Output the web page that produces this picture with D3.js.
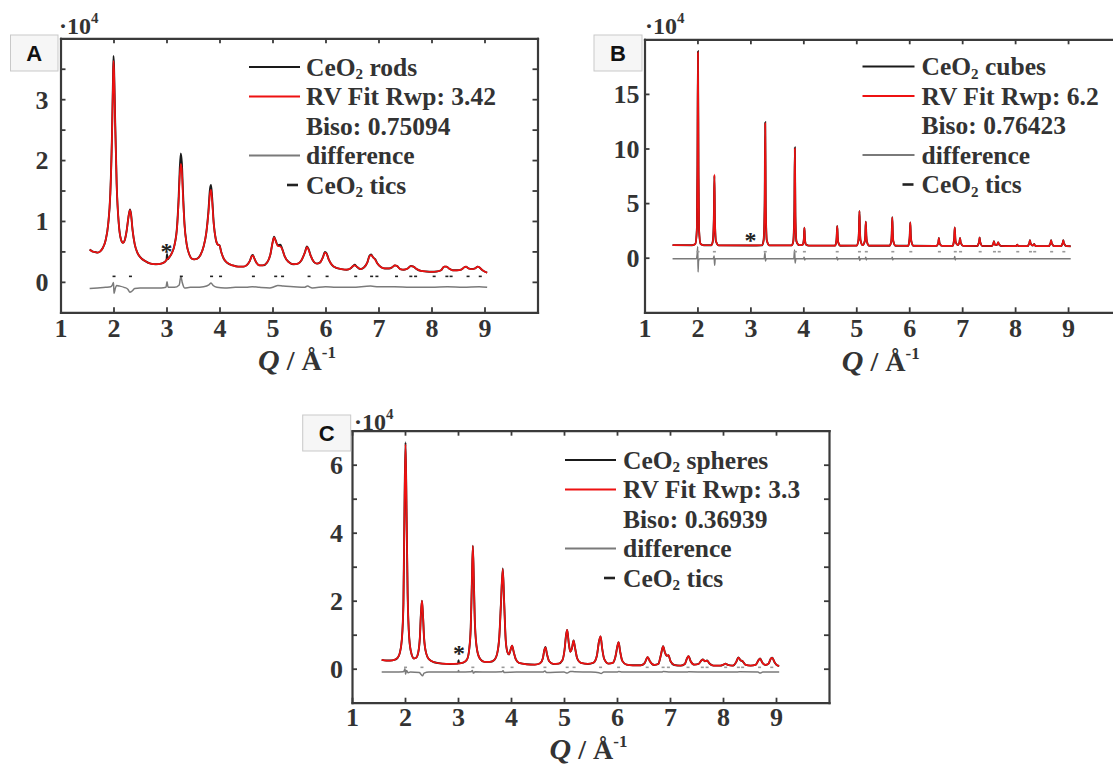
<!DOCTYPE html>
<html>
<head>
<meta charset="utf-8">
<script src="https://cdn.jsdelivr.net/npm/d3@7"></script>
<style>
  html, body { margin: 0; padding: 0; background: #ffffff; }
  svg { display: block; }
</style>
</head>
<body>
<script>
// ---------------- DATA ----------------
// Q in 1/Å, intensity in units of 10^4
const xTickValues = [1, 2, 3, 4, 5, 6, 7, 8, 9];
const yLabelsA = [0, 1, 2, 3];
const yTicksA = [0, 0.5, 1, 1.5, 2, 2.5, 3, 3.5];
const yLabelsB = [0, 5, 10, 15];
const yTicksB = [0, 5, 10, 15];
const yLabelsC = [0, 2, 4, 6];
const yTicksC = [0, 1, 2, 3, 4, 5, 6];

const panelLetters = ["A", "B", "C"];
const sampleNames = ["rods", "cubes", "spheres"];
const rwpValues = ["3.42", "6.2", "3.3"];
const bisoValues = ["0.75094", "0.76423", "0.36939"];

// CeO2 reflection tic positions
const ceo2Tics = [2.01, 2.32, 3.28, 3.85, 4.02, 4.64, 5.06, 5.19, 5.69, 6.03, 6.57, 6.87, 6.97, 7.34, 7.61, 7.70, 8.05, 8.29, 8.37, 8.69, 8.92];

// Panel A: CeO2 rods
const obsA = [[1.55,0.53],[1.60,0.50],[1.65,0.49],[1.70,0.48],[1.75,0.50],[1.80,0.56],[1.85,0.68],[1.90,0.95],[1.94,1.45],[1.97,2.35],[1.99,3.30],[2.00,3.71],[2.01,3.55],[2.03,2.70],[2.06,1.60],[2.10,0.95],[2.14,0.70],[2.18,0.64],[2.21,0.68],[2.25,0.85],[2.28,1.05],[2.31,1.19],[2.33,1.12],[2.36,0.85],[2.40,0.62],[2.45,0.48],[2.50,0.41],[2.60,0.34],[2.70,0.30],[2.80,0.29],[2.90,0.30],[2.97,0.33],[3.00,0.36],[3.01,0.46],[3.02,0.37],[3.05,0.40],[3.10,0.47],[3.15,0.60],[3.20,0.92],[3.23,1.40],[3.25,1.85],[3.27,2.11],[3.29,1.95],[3.31,1.50],[3.34,0.95],[3.38,0.62],[3.43,0.45],[3.48,0.38],[3.52,0.37],[3.58,0.38],[3.64,0.44],[3.70,0.58],[3.75,0.80],[3.79,1.15],[3.82,1.52],[3.84,1.59],[3.86,1.40],[3.89,0.98],[3.93,0.70],[3.97,0.61],[4.00,0.60],[4.03,0.50],[4.08,0.38],[4.15,0.31],[4.25,0.27],[4.35,0.25],[4.45,0.25],[4.52,0.28],[4.57,0.34],[4.61,0.43],[4.63,0.44],[4.66,0.38],[4.70,0.31],[4.76,0.27],[4.82,0.27],[4.90,0.32],[4.96,0.45],[5.00,0.64],[5.03,0.74],[5.06,0.68],[5.10,0.60],[5.15,0.61],[5.18,0.55],[5.23,0.42],[5.30,0.33],[5.40,0.29],[5.48,0.30],[5.55,0.36],[5.61,0.48],[5.65,0.58],[5.68,0.54],[5.72,0.43],[5.78,0.33],[5.84,0.30],[5.90,0.32],[5.95,0.40],[5.99,0.49],[6.02,0.47],[6.06,0.37],[6.12,0.28],[6.20,0.23],[6.30,0.21],[6.40,0.20],[6.47,0.22],[6.52,0.26],[6.55,0.28],[6.59,0.25],[6.66,0.21],[6.73,0.24],[6.79,0.32],[6.83,0.43],[6.86,0.45],[6.90,0.40],[6.94,0.37],[6.98,0.30],[7.05,0.24],[7.12,0.22],[7.20,0.22],[7.26,0.24],[7.31,0.27],[7.35,0.26],[7.41,0.21],[7.48,0.20],[7.55,0.22],[7.61,0.26],[7.66,0.25],[7.72,0.21],[7.80,0.18],[7.90,0.17],[8.00,0.165],[8.10,0.17],[8.18,0.19],[8.24,0.25],[8.28,0.25],[8.33,0.22],[8.40,0.19],[8.48,0.19],[8.56,0.20],[8.62,0.24],[8.65,0.25],[8.70,0.22],[8.76,0.21],[8.82,0.22],[8.87,0.25],[8.90,0.24],[8.95,0.20],[9.00,0.17],[9.05,0.15]];
const fitA = [[1.55,0.53],[1.60,0.50],[1.65,0.49],[1.70,0.48],[1.75,0.50],[1.80,0.56],[1.85,0.68],[1.90,0.95],[1.94,1.45],[1.97,2.33],[1.99,3.24],[2.00,3.63],[2.01,3.47],[2.03,2.66],[2.06,1.60],[2.10,0.95],[2.14,0.70],[2.18,0.64],[2.21,0.68],[2.25,0.85],[2.28,1.05],[2.31,1.18],[2.33,1.11],[2.36,0.85],[2.40,0.62],[2.45,0.48],[2.50,0.41],[2.60,0.34],[2.70,0.30],[2.80,0.29],[2.90,0.30],[2.97,0.33],[3.00,0.36],[3.05,0.40],[3.10,0.47],[3.15,0.60],[3.20,0.90],[3.23,1.35],[3.25,1.74],[3.27,1.94],[3.29,1.82],[3.31,1.42],[3.34,0.93],[3.38,0.62],[3.43,0.45],[3.48,0.38],[3.52,0.37],[3.58,0.38],[3.64,0.44],[3.70,0.58],[3.75,0.80],[3.79,1.12],[3.82,1.45],[3.84,1.51],[3.86,1.34],[3.89,0.96],[3.93,0.70],[3.97,0.61],[4.00,0.60],[4.03,0.50],[4.08,0.38],[4.15,0.31],[4.25,0.27],[4.35,0.25],[4.45,0.25],[4.52,0.28],[4.57,0.34],[4.61,0.42],[4.63,0.43],[4.66,0.38],[4.70,0.31],[4.76,0.27],[4.82,0.27],[4.90,0.32],[4.96,0.45],[5.00,0.64],[5.03,0.73],[5.06,0.67],[5.10,0.59],[5.15,0.58],[5.18,0.54],[5.23,0.42],[5.30,0.33],[5.40,0.29],[5.48,0.30],[5.55,0.36],[5.61,0.48],[5.65,0.57],[5.68,0.53],[5.72,0.43],[5.78,0.33],[5.84,0.30],[5.90,0.32],[5.95,0.40],[5.99,0.48],[6.02,0.46],[6.06,0.37],[6.12,0.28],[6.20,0.23],[6.30,0.21],[6.40,0.20],[6.47,0.22],[6.52,0.26],[6.55,0.27],[6.59,0.25],[6.66,0.21],[6.73,0.24],[6.79,0.32],[6.83,0.42],[6.86,0.44],[6.90,0.40],[6.94,0.36],[6.98,0.30],[7.05,0.24],[7.12,0.22],[7.20,0.22],[7.26,0.24],[7.31,0.27],[7.35,0.26],[7.41,0.21],[7.48,0.20],[7.55,0.22],[7.61,0.26],[7.66,0.25],[7.72,0.21],[7.80,0.18],[7.90,0.17],[8.00,0.165],[8.10,0.17],[8.18,0.19],[8.24,0.25],[8.28,0.25],[8.33,0.22],[8.40,0.19],[8.48,0.19],[8.56,0.20],[8.62,0.24],[8.65,0.25],[8.70,0.22],[8.76,0.21],[8.82,0.22],[8.87,0.25],[8.90,0.24],[8.95,0.20],[9.00,0.17],[9.05,0.15]];
const diffA = [[1.55,-0.11],[1.70,-0.10],[1.85,-0.09],[1.95,-0.08],[1.98,-0.05],[2.00,-0.01],[2.01,-0.19],[2.03,-0.12],[2.06,-0.06],[2.12,-0.07],[2.20,-0.09],[2.27,-0.12],[2.31,-0.17],[2.35,-0.15],[2.40,-0.11],[2.50,-0.10],[2.70,-0.10],[2.90,-0.10],[2.99,-0.09],[3.01,0.00],[3.03,-0.09],[3.15,-0.09],[3.24,-0.05],[3.27,0.09],[3.30,-0.02],[3.34,-0.10],[3.45,-0.09],[3.55,-0.09],[3.70,-0.08],[3.80,-0.05],[3.84,-0.02],[3.88,-0.06],[3.95,-0.09],[4.10,-0.10],[4.30,-0.09],[4.50,-0.09],[4.62,-0.08],[4.75,-0.09],[4.95,-0.10],[5.03,-0.08],[5.10,-0.06],[5.20,-0.07],[5.40,-0.08],[5.60,-0.09],[5.66,-0.07],[5.75,-0.10],[6.00,-0.08],[6.20,-0.09],[6.50,-0.09],[6.85,-0.07],[7.00,-0.08],[7.30,-0.08],[7.60,-0.09],[8.00,-0.09],[8.30,-0.08],[8.60,-0.09],[8.90,-0.08],[9.05,-0.09]];

// Panel B: CeO2 cubes
const fitB = [[1.53,1.15],[1.90,1.14],[1.96,1.25],[1.99,2.6],[2.00,8.0],[2.01,18.8],[2.02,8.0],[2.03,2.6],[2.06,1.25],[2.12,1.14],[2.26,1.14],[2.29,1.5],[2.31,3.5],[2.32,7.6],[2.33,3.5],[2.35,1.5],[2.40,1.13],[3.00,1.12],[3.22,1.14],[3.25,1.6],[3.27,4.8],[3.28,12.3],[3.29,4.8],[3.31,1.6],[3.36,1.13],[3.78,1.13],[3.81,1.5],[3.83,4.0],[3.84,10.0],[3.85,4.0],[3.87,1.5],[3.92,1.15],[3.99,1.2],[4.01,1.7],[4.02,2.75],[4.03,1.7],[4.05,1.2],[4.10,1.11],[4.60,1.11],[4.62,1.4],[4.63,1.9],[4.64,2.9],[4.65,1.9],[4.66,1.4],[4.70,1.10],[5.01,1.11],[5.04,1.6],[5.05,2.4],[5.06,4.27],[5.07,2.4],[5.08,1.6],[5.12,1.15],[5.16,1.5],[5.17,2.0],[5.18,3.3],[5.19,2.0],[5.20,1.5],[5.24,1.10],[5.63,1.10],[5.66,1.5],[5.67,2.2],[5.68,3.7],[5.69,2.2],[5.70,1.5],[5.74,1.10],[5.98,1.09],[6.00,1.5],[6.01,2.0],[6.02,3.23],[6.03,2.0],[6.04,1.5],[6.08,1.09],[6.52,1.08],[6.54,1.25],[6.55,1.4],[6.56,1.8],[6.57,1.4],[6.58,1.25],[6.62,1.08],[6.82,1.08],[6.84,1.4],[6.85,1.8],[6.86,2.77],[6.87,1.8],[6.88,1.4],[6.92,1.15],[6.94,1.3],[6.95,1.45],[6.96,1.8],[6.97,1.45],[6.98,1.3],[7.02,1.08],[7.29,1.07],[7.31,1.3],[7.32,1.45],[7.33,1.85],[7.34,1.45],[7.35,1.3],[7.38,1.07],[7.56,1.07],[7.58,1.2],[7.59,1.3],[7.60,1.5],[7.61,1.3],[7.63,1.15],[7.66,1.2],[7.67,1.28],[7.68,1.4],[7.69,1.28],[7.70,1.2],[7.74,1.07],[8.00,1.06],[8.03,1.12],[8.04,1.2],[8.05,1.12],[8.08,1.06],[8.24,1.06],[8.26,1.25],[8.27,1.35],[8.28,1.6],[8.29,1.35],[8.30,1.25],[8.33,1.12],[8.35,1.15],[8.36,1.25],[8.37,1.15],[8.40,1.06],[8.64,1.06],[8.66,1.25],[8.67,1.35],[8.68,1.6],[8.69,1.35],[8.70,1.25],[8.74,1.06],[8.87,1.06],[8.89,1.25],[8.90,1.35],[8.91,1.6],[8.92,1.35],[8.93,1.25],[8.97,1.06],[9.05,1.05]];
const obsB = [[1.53,1.15],[1.90,1.14],[1.96,1.25],[1.99,2.7],[2.00,8.5],[2.01,18.9],[2.02,7.6],[2.03,2.5],[2.06,1.25],[2.12,1.14],[2.26,1.14],[2.29,1.5],[2.31,3.6],[2.32,7.5],[2.33,3.3],[2.35,1.5],[2.40,1.13],[3.00,1.12],[3.22,1.14],[3.25,1.6],[3.27,5.0],[3.28,12.4],[3.29,4.6],[3.31,1.6],[3.36,1.13],[3.78,1.13],[3.81,1.5],[3.83,4.3],[3.84,10.1],[3.85,3.8],[3.87,1.5],[3.92,1.15],[3.99,1.2],[4.01,1.7],[4.02,2.75],[4.03,1.7],[4.05,1.2],[4.10,1.11],[4.60,1.11],[4.62,1.4],[4.63,1.9],[4.64,2.9],[4.65,1.9],[4.66,1.4],[4.70,1.10],[5.01,1.11],[5.04,1.6],[5.05,2.4],[5.06,4.27],[5.07,2.4],[5.08,1.6],[5.12,1.15],[5.16,1.5],[5.17,2.0],[5.18,3.3],[5.19,2.0],[5.20,1.5],[5.24,1.10],[5.63,1.10],[5.66,1.5],[5.67,2.2],[5.68,3.7],[5.69,2.2],[5.70,1.5],[5.74,1.10],[5.98,1.09],[6.00,1.5],[6.01,2.0],[6.02,3.23],[6.03,2.0],[6.04,1.5],[6.08,1.09],[6.52,1.08],[6.54,1.25],[6.55,1.4],[6.56,1.8],[6.57,1.4],[6.58,1.25],[6.62,1.08],[6.82,1.08],[6.84,1.4],[6.85,1.8],[6.86,2.77],[6.87,1.8],[6.88,1.4],[6.92,1.15],[6.94,1.3],[6.95,1.45],[6.96,1.8],[6.97,1.45],[6.98,1.3],[7.02,1.08],[7.29,1.07],[7.31,1.3],[7.32,1.45],[7.33,1.85],[7.34,1.45],[7.35,1.3],[7.38,1.07],[7.56,1.07],[7.58,1.2],[7.59,1.3],[7.60,1.5],[7.61,1.3],[7.63,1.15],[7.66,1.2],[7.67,1.28],[7.68,1.4],[7.69,1.28],[7.70,1.2],[7.74,1.07],[8.00,1.06],[8.03,1.12],[8.04,1.2],[8.05,1.12],[8.08,1.06],[8.24,1.06],[8.26,1.25],[8.27,1.35],[8.28,1.6],[8.29,1.35],[8.30,1.25],[8.33,1.12],[8.35,1.15],[8.36,1.25],[8.37,1.15],[8.40,1.06],[8.64,1.06],[8.66,1.25],[8.67,1.35],[8.68,1.6],[8.69,1.35],[8.70,1.25],[8.74,1.06],[8.87,1.06],[8.89,1.25],[8.90,1.35],[8.91,1.6],[8.92,1.35],[8.93,1.25],[8.97,1.06],[9.05,1.05]];
const diffB = [[1.53,-0.1],[1.98,-0.1],[1.995,0.3],[2.005,1.0],[2.012,-1.3],[2.02,-0.3],[2.04,-0.1],[2.30,-0.1],[2.315,0.15],[2.325,-0.7],[2.335,-0.1],[3.26,-0.1],[3.275,0.45],[3.285,-0.3],[3.30,-0.1],[3.82,-0.1],[3.835,0.7],[3.845,-0.5],[3.86,-0.1],[4.005,-0.1],[4.015,0.05],[4.025,-0.2],[4.04,-0.1],[4.625,-0.1],[4.635,0.05],[4.645,-0.2],[4.66,-0.1],[5.045,-0.1],[5.055,0.1],[5.065,-0.25],[5.08,-0.1],[5.17,-0.1],[5.18,0.05],[5.19,-0.2],[5.20,-0.1],[5.67,-0.1],[5.68,0.05],[5.69,-0.2],[5.70,-0.1],[6.85,-0.1],[6.86,0.1],[6.87,-0.2],[6.88,-0.1],[9.05,-0.1]];

// Panel C: CeO2 spheres
const fitC = [[1.56,0.26],[1.65,0.24],[1.72,0.24],[1.80,0.26],[1.86,0.32],[1.90,0.45],[1.94,0.85],[1.97,1.9],[1.99,4.6],[2.01,6.60],[2.03,4.6],[2.05,2.2],[2.08,0.9],[2.12,0.45],[2.17,0.30],[2.21,0.32],[2.25,0.48],[2.28,0.9],[2.30,1.6],[2.32,2.0],[2.34,1.55],[2.36,0.9],[2.40,0.45],[2.45,0.28],[2.55,0.19],[2.70,0.15],[2.85,0.14],[3.00,0.15],[3.10,0.18],[3.17,0.27],[3.21,0.55],[3.24,1.2],[3.26,2.4],[3.28,3.61],[3.30,2.5],[3.32,1.3],[3.36,0.55],[3.42,0.28],[3.50,0.20],[3.60,0.20],[3.68,0.25],[3.74,0.45],[3.78,0.95],[3.81,1.9],[3.845,2.93],[3.87,2.0],[3.90,0.85],[3.93,0.50],[3.96,0.42],[4.00,0.60],[4.02,0.68],[4.05,0.50],[4.09,0.28],[4.15,0.17],[4.30,0.13],[4.45,0.12],[4.55,0.16],[4.60,0.30],[4.63,0.55],[4.65,0.63],[4.68,0.42],[4.72,0.22],[4.80,0.14],[4.90,0.15],[4.97,0.25],[5.01,0.55],[5.04,1.0],[5.06,1.14],[5.09,0.75],[5.12,0.50],[5.15,0.60],[5.18,0.83],[5.21,0.60],[5.25,0.30],[5.32,0.17],[5.45,0.14],[5.56,0.18],[5.62,0.38],[5.66,0.80],[5.69,0.95],[5.72,0.60],[5.76,0.28],[5.84,0.15],[5.92,0.17],[5.97,0.35],[6.01,0.68],[6.03,0.78],[6.06,0.50],[6.10,0.23],[6.18,0.12],[6.30,0.10],[6.45,0.10],[6.52,0.16],[6.56,0.30],[6.58,0.34],[6.62,0.22],[6.70,0.11],[6.78,0.14],[6.83,0.42],[6.87,0.66],[6.90,0.50],[6.94,0.38],[6.97,0.40],[7.01,0.22],[7.08,0.11],[7.20,0.09],[7.28,0.14],[7.32,0.30],[7.35,0.37],[7.39,0.22],[7.46,0.12],[7.54,0.14],[7.59,0.24],[7.62,0.27],[7.66,0.22],[7.70,0.24],[7.74,0.16],[7.82,0.09],[7.95,0.09],[8.02,0.13],[8.05,0.15],[8.09,0.11],[8.18,0.09],[8.25,0.20],[8.29,0.33],[8.33,0.25],[8.37,0.22],[8.42,0.12],[8.52,0.09],[8.62,0.12],[8.67,0.25],[8.70,0.30],[8.74,0.18],[8.80,0.11],[8.86,0.15],[8.90,0.29],[8.93,0.32],[8.97,0.20],[9.02,0.10],[9.06,0.08]];
const obsC = [[1.56,0.26],[1.65,0.24],[1.72,0.24],[1.80,0.26],[1.86,0.32],[1.90,0.45],[1.94,0.85],[1.97,1.9],[1.99,4.7],[2.01,6.66],[2.03,4.5],[2.05,2.2],[2.08,0.9],[2.12,0.45],[2.17,0.30],[2.21,0.32],[2.25,0.48],[2.28,0.9],[2.30,1.6],[2.32,2.0],[2.34,1.55],[2.36,0.9],[2.40,0.45],[2.45,0.28],[2.55,0.19],[2.70,0.15],[2.85,0.14],[3.00,0.15],[3.01,0.25],[3.02,0.16],[3.10,0.18],[3.17,0.27],[3.21,0.55],[3.24,1.2],[3.26,2.4],[3.28,3.62],[3.30,2.5],[3.32,1.3],[3.36,0.55],[3.42,0.28],[3.50,0.20],[3.60,0.20],[3.68,0.25],[3.74,0.45],[3.78,0.95],[3.81,1.9],[3.845,2.95],[3.87,2.0],[3.90,0.85],[3.93,0.50],[3.96,0.42],[4.00,0.60],[4.02,0.68],[4.05,0.50],[4.09,0.28],[4.15,0.17],[4.30,0.13],[4.45,0.12],[4.55,0.16],[4.60,0.30],[4.63,0.56],[4.65,0.64],[4.68,0.42],[4.72,0.22],[4.80,0.14],[4.90,0.15],[4.97,0.25],[5.01,0.55],[5.04,1.0],[5.06,1.14],[5.09,0.75],[5.12,0.50],[5.15,0.60],[5.18,0.83],[5.21,0.60],[5.25,0.30],[5.32,0.17],[5.45,0.14],[5.56,0.18],[5.62,0.38],[5.66,0.80],[5.69,0.95],[5.72,0.60],[5.76,0.28],[5.84,0.15],[5.92,0.17],[5.97,0.35],[6.01,0.68],[6.03,0.78],[6.06,0.50],[6.10,0.23],[6.18,0.12],[6.30,0.10],[6.45,0.10],[6.52,0.16],[6.56,0.30],[6.58,0.34],[6.62,0.22],[6.70,0.11],[6.78,0.14],[6.83,0.42],[6.87,0.66],[6.90,0.50],[6.94,0.38],[6.97,0.40],[7.01,0.22],[7.08,0.11],[7.20,0.09],[7.28,0.14],[7.32,0.30],[7.35,0.37],[7.39,0.22],[7.46,0.12],[7.54,0.14],[7.59,0.24],[7.62,0.27],[7.66,0.22],[7.70,0.24],[7.74,0.16],[7.82,0.09],[7.95,0.09],[8.02,0.13],[8.05,0.15],[8.09,0.11],[8.18,0.09],[8.25,0.20],[8.29,0.33],[8.33,0.25],[8.37,0.22],[8.42,0.12],[8.52,0.09],[8.62,0.12],[8.67,0.25],[8.70,0.30],[8.74,0.18],[8.80,0.11],[8.86,0.15],[8.90,0.29],[8.93,0.32],[8.97,0.20],[9.02,0.10],[9.06,0.08]];
const diffC = [[1.56,-0.10],[1.80,-0.10],[1.97,-0.09],[1.99,-0.04],[2.00,0.00],[2.01,-0.16],[2.03,-0.05],[2.06,-0.12],[2.10,-0.10],[2.27,-0.11],[2.30,-0.16],[2.33,-0.21],[2.36,-0.13],[2.45,-0.10],[2.80,-0.10],[3.00,-0.10],[3.01,-0.05],[3.02,-0.10],[3.25,-0.09],[3.27,-0.05],[3.29,-0.13],[3.32,-0.09],[3.60,-0.10],[3.83,-0.09],[3.85,-0.06],[3.87,-0.11],[4.10,-0.10],[4.60,-0.10],[4.64,-0.07],[4.67,-0.11],[5.00,-0.10],[5.06,-0.13],[5.12,-0.08],[5.20,-0.09],[5.50,-0.10],[5.66,-0.12],[5.70,-0.14],[5.75,-0.10],[6.00,-0.10],[6.03,-0.08],[6.10,-0.10],[6.60,-0.10],[6.85,-0.10],[6.87,-0.08],[7.00,-0.10],[7.33,-0.10],[7.35,-0.09],[7.70,-0.10],[8.28,-0.10],[8.30,-0.09],[8.66,-0.10],[8.70,-0.13],[8.75,-0.10],[9.06,-0.10]];

// ---------------- DRAWING ----------------
const SERIF = "'Liberation Serif','Times New Roman',Times,serif";
const SANS = "'Liberation Sans',Arial,Helvetica,sans-serif";
const INK = "#333333";
const FRAME = "#3a3a3a";

const svg = d3.select("body").append("svg")
  .attr("width", 1113).attr("height", 765)
  .attr("viewBox", "0 0 1113 765");

const panels = [
  { letter: panelLetters[0], name: sampleNames[0], rwp: rwpValues[0], biso: bisoValues[0],
    obs: obsA, fit: fitA, diff: diffA,
    left: 60.5, right: 537.5, top: 38.3, bottom: 312.3, yDomain: [-0.5, 4],
    yTicks: yTicksA, yLabels: yLabelsA, labelGap: 12, xPad: 6.5, titleOffset: 58,
    box: [10.5, 35, 47.5, 36], mult: [59, 34],
    legend: { x1: 249, x2: 300, tx: 306, y0: 67 },
    ticLevel: 0.09, ticColor: "#222", star: [3.0, 0.55] },
  { letter: panelLetters[1], name: sampleNames[1], rwp: rwpValues[1], biso: bisoValues[1],
    obs: obsB, fit: fitB, diff: diffB,
    left: 644.5, right: 1121, top: 39.3, bottom: 312.3, yDomain: [-5, 20],
    yTicks: yTicksB, yLabels: yLabelsB, labelGap: 5, xPad: 6.5, titleOffset: 59,
    box: [594, 35, 48, 36], mult: [645, 33.5],
    legend: { x1: 862.5, x2: 914.5, tx: 921.5, y0: 66.5 },
    ticLevel: 0.55, ticColor: "#999", star: [3.0, 1.85] },
  { letter: panelLetters[2], name: sampleNames[2], rwp: rwpValues[2], biso: bisoValues[2],
    obs: obsC, fit: fitC, diff: diffC,
    left: 352, right: 829, top: 430.7, bottom: 702.7, yDomain: [-1, 7],
    yTicks: yTicksC, yLabels: yLabelsC, labelGap: 9, xPad: 5, titleOffset: 56.5,
    box: [302.7, 415, 48, 36], mult: [354, 429.5],
    legend: { x1: 565, x2: 616, tx: 623, y0: 460 },
    ticLevel: 0.04, ticColor: "#999", star: [3.02, 0.54] }
];

function styleAxis(g) {
  g.select(".domain").attr("stroke", FRAME).attr("stroke-width", 2.2).attr("stroke-linecap", "square");
  g.selectAll(".tick line").attr("stroke", FRAME).attr("stroke-width", 1.8);
  g.selectAll(".tick text")
    .attr("font-family", SERIF).attr("font-weight", "bold").attr("font-size", 26).attr("fill", INK);
}

panels.forEach(p => {
  const x = d3.scaleLinear().domain([1, 10]).range([p.left, p.right]);
  const y = d3.scaleLinear().domain(p.yDomain).range([p.bottom, p.top]);
  const g = svg.append("g");

  const line = d3.line().x(d => x(d[0])).y(d => y(d[1])).curve(d3.curveMonotoneX);

  // difference curve
  g.append("path").datum(p.diff).attr("d", line)
    .attr("fill", "none").attr("stroke", "#7a7a7a").attr("stroke-width", 1.5);

  // CeO2 tics
  g.selectAll("rect.tic").data(ceo2Tics).join("rect").attr("class", "tic")
    .attr("x", d => x(d) - 1.5).attr("y", y(p.ticLevel) - 0.8)
    .attr("width", 3).attr("height", 1.6).attr("fill", p.ticColor);

  // observed (black) and fit (red)
  g.append("path").datum(p.obs).attr("d", line)
    .attr("fill", "none").attr("stroke", "#1a1a1a").attr("stroke-width", 1.9);
  g.append("path").datum(p.fit).attr("d", line)
    .attr("fill", "none").attr("stroke", "#ee1111").attr("stroke-width", 1.7);

  // star annotation
  g.append("text").attr("x", x(p.star[0])).attr("y", y(p.star[1]) + 11)
    .attr("text-anchor", "middle").attr("font-family", SERIF).attr("font-weight", "bold")
    .attr("font-size", 24).attr("fill", "#222").text("*");

  // axes (ticks pointing inward)
  const bottomAx = g.append("g").attr("transform", `translate(0,${p.bottom})`)
    .call(d3.axisBottom(x).tickValues(xTickValues).tickSizeInner(-5).tickSizeOuter(0).tickPadding(p.xPad).tickFormat(d3.format("d")));
  styleAxis(bottomAx);
  const topAx = g.append("g").attr("transform", `translate(0,${p.top})`)
    .call(d3.axisTop(x).tickValues(xTickValues).tickSizeInner(-5).tickSizeOuter(0).tickFormat(""));
  styleAxis(topAx);
  const leftAx = g.append("g").attr("transform", `translate(${p.left},0)`)
    .call(d3.axisLeft(y).tickValues(p.yTicks).tickSizeInner(-5).tickSizeOuter(0).tickPadding(p.labelGap)
      .tickFormat(d => p.yLabels.includes(d) ? d3.format("d")(d) : ""));
  styleAxis(leftAx);
  leftAx.selectAll(".tick text").attr("dy", "0.34em");
  const rightAx = g.append("g").attr("transform", `translate(${p.right},0)`)
    .call(d3.axisRight(y).tickValues(p.yTicks).tickSizeInner(-5).tickSizeOuter(0).tickFormat(""));
  styleAxis(rightAx);

  // x axis title: Q / Å^-1
  const cx = (p.left + p.right) / 2 - 2;
  const t = g.append("text").attr("x", cx).attr("y", p.bottom + p.titleOffset)
    .attr("text-anchor", "middle").attr("font-family", SERIF).attr("font-weight", "bold").attr("fill", INK);
  t.append("tspan").attr("font-style", "italic").attr("font-size", 30).text("Q");
  t.append("tspan").attr("font-size", 28).text(" / Å");
  t.append("tspan").attr("font-size", 17).attr("dy", -12).text("-1");

  // multiplier ·10^4
  const m = g.append("text").attr("x", p.mult[0]).attr("y", p.mult[1])
    .attr("font-family", SERIF).attr("font-weight", "bold").attr("fill", INK);
  m.append("tspan").attr("font-size", 24).text("·10");
  m.append("tspan").attr("font-size", 15).attr("dy", -11).text("4");

  // panel letter box
  g.append("rect").attr("x", p.box[0]).attr("y", p.box[1]).attr("width", p.box[2]).attr("height", p.box[3])
    .attr("fill", "#f6f6f6").attr("stroke", "#c9c9c9").attr("stroke-width", 1);
  g.append("text").attr("x", p.box[0] + p.box[2] / 2).attr("y", p.box[1] + p.box[3] / 2 + 8)
    .attr("text-anchor", "middle").attr("font-family", SANS).attr("font-weight", "bold")
    .attr("font-size", 22).attr("fill", "#111").text(p.letter);

  // legend
  const L = p.legend, rowH = 29.5;
  const lg = g.append("g");
  const rows = [
    { kind: "line", color: "#1a1a1a" },
    { kind: "line", color: "#ee1111" },
    { kind: "none" },
    { kind: "line", color: "#7a7a7a" },
    { kind: "dash" }
  ];
  rows.forEach((r, i) => {
    const yy = L.y0 + i * rowH;
    if (r.kind === "line") {
      lg.append("line").attr("x1", L.x1).attr("x2", L.x2).attr("y1", yy).attr("y2", yy)
        .attr("stroke", r.color).attr("stroke-width", 2);
    } else if (r.kind === "dash") {
      lg.append("line").attr("x1", L.tx - 19).attr("x2", L.tx - 8).attr("y1", yy).attr("y2", yy)
        .attr("stroke", "#222").attr("stroke-width", 2.6);
    }
    const tx = lg.append("text").attr("x", L.tx).attr("y", yy + 8.5)
      .attr("font-family", SERIF).attr("font-weight", "bold").attr("font-size", 25.5).attr("fill", INK);
    if (i === 0 || i === 4) {
      tx.append("tspan").text("CeO");
      tx.append("tspan").attr("font-size", 15).attr("dy", 3.5).text("2");
      tx.append("tspan").attr("dy", -3.5).text(i === 0 ? " " + p.name : " tics");
    } else if (i === 1) {
      tx.text("RV Fit Rwp: " + p.rwp);
    } else if (i === 2) {
      tx.text("Biso: " + p.biso);
    } else {
      tx.text("difference");
    }
  });
});
</script>
</body>
</html>
